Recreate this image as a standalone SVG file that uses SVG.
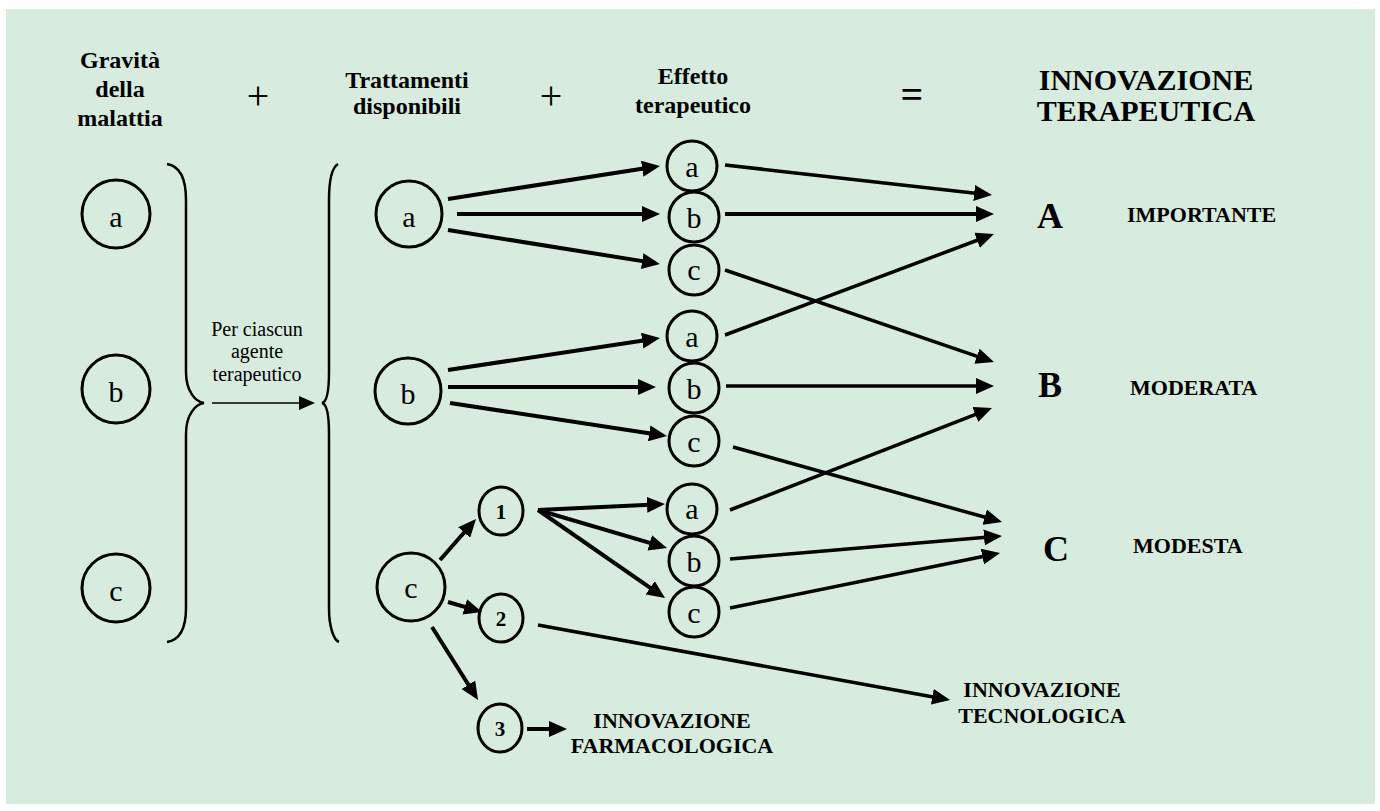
<svg xmlns="http://www.w3.org/2000/svg" width="1380" height="811" viewBox="0 0 1380 811">
  <defs>
    <style>
      text { font-family: "Liberation Serif", "Times New Roman", serif; fill: #000; }
      .hdr { font-size: 24px; font-weight: bold; text-anchor: middle; }
      .op { font-size: 40px; text-anchor: middle; }
      .title { font-size: 30px; font-weight: bold; text-anchor: middle; }
      .grade { font-size: 36px; font-weight: bold; text-anchor: middle; }
      .lvl { font-size: 22px; font-weight: bold; }
      .out { font-size: 22px; font-weight: bold; text-anchor: middle; }
      .note { font-size: 20px; text-anchor: middle; }
      .lt { font-size: 30px; text-anchor: middle; }
      .num { font-size: 21px; font-weight: bold; text-anchor: middle; }
      .ring { fill: none; stroke: #000; stroke-width: 3; }
      .arrow { fill: none; stroke: #000; stroke-width: 4; marker-end: url(#head); }
      .arrow.mid { stroke-width: 3.5; }
      .thin { fill: none; stroke: #000; stroke-width: 1.5; marker-end: url(#head-s); }
      .brace { fill: none; stroke: #000; stroke-width: 2.5; }
    </style>
    <marker id="head" markerUnits="userSpaceOnUse" viewBox="0 0 18 16" markerWidth="18" markerHeight="16" refX="8" refY="8" orient="auto">
      <path d="M0,0 L18,8 L0,16 Z" fill="#000"/>
    </marker>
    <marker id="head-s" markerUnits="userSpaceOnUse" viewBox="0 0 16 14" markerWidth="16" markerHeight="14" refX="6" refY="7" orient="auto">
      <path d="M0,0 L16,7 L0,14 Z" fill="#000"/>
    </marker>
  </defs>

  <rect x="0" y="0" width="1380" height="811" fill="#ffffff"/>
  <rect x="6" y="9" width="1369" height="795" fill="#D7EBDE"/>

  <!-- column headings -->
  <g id="headings">
    <text class="hdr" x="120" y="68">Gravità</text>
    <text class="hdr" x="120" y="97">della</text>
    <text class="hdr" x="120" y="126">malattia</text>
    <text class="op" x="258" y="109">+</text>
    <text class="hdr" x="407" y="88">Trattamenti</text>
    <text class="hdr" x="407" y="114">disponibili</text>
    <text class="op" x="551" y="109">+</text>
    <text class="hdr" x="693" y="84">Effetto</text>
    <text class="hdr" x="693" y="113">terapeutico</text>
    <text class="op" x="912" y="108" font-weight="bold">=</text>
    <text class="title" x="1146" y="90">INNOVAZIONE</text>
    <text class="title" x="1146" y="121">TERAPEUTICA</text>
  </g>

  <!-- disease severity -->
  <g id="sev-a"><circle class="ring" cx="116" cy="214" r="34"/><text class="lt" x="116" y="227">a</text></g>
  <g id="sev-b"><circle class="ring" cx="116" cy="389" r="34"/><text class="lt" x="116" y="402">b</text></g>
  <g id="sev-c"><circle class="ring" cx="116" cy="588" r="34"/><text class="lt" x="116" y="601">c</text></g>

  <!-- braces and the per-agent step -->
  <g id="braces">
    <path class="brace" d="M167,164 C180,166 186,178 186,200 L186,372 C186,392 196,402 204,403 C196,404 186,414 186,434 L186,608 C186,628 180,640 167,642"/>
    <path class="brace" d="M338,164 C333,167 329,178 329,200 L329,372 C329,392 327,402 322,403 C327,404 329,414 329,434 L329,608 C329,628 334,640 339,642"/>
  </g>
  <g id="per-agente">
    <text class="note" x="257" y="336">Per ciascun</text>
    <text class="note" x="257" y="358">agente</text>
    <text class="note" x="257" y="381">terapeutico</text>
  </g>

  <!-- available treatments -->
  <g id="tr-a"><circle class="ring" cx="409" cy="214" r="33"/><text class="lt" x="409" y="227">a</text></g>
  <g id="tr-b"><circle class="ring" cx="408" cy="391" r="33"/><text class="lt" x="408" y="404">b</text></g>
  <g id="tr-c"><circle class="ring" cx="411" cy="587" r="34"/><text class="lt" x="411" y="598">c</text></g>

  <!-- treatment options for c -->
  <g id="opt-1"><ellipse class="ring" cx="501" cy="511" rx="22" ry="24"/><text class="num" x="501" y="519">1</text></g>
  <g id="opt-2"><ellipse class="ring" cx="501" cy="618" rx="22" ry="24"/><text class="num" x="501" y="626">2</text></g>
  <g id="opt-3"><ellipse class="ring" cx="500" cy="728" rx="22" ry="24"/><text class="num" x="500" y="736">3</text></g>

  <!-- therapeutic effect, three groups -->
  <g id="eff-1a"><circle class="ring" cx="692" cy="166" r="25"/><text class="lt" x="692" y="177">a</text></g>
  <g id="eff-1b"><circle class="ring" cx="694" cy="217" r="25"/><text class="lt" x="694" y="228">b</text></g>
  <g id="eff-1c"><circle class="ring" cx="694" cy="270" r="25"/><text class="lt" x="694" y="280">c</text></g>
  <g id="eff-2a"><circle class="ring" cx="692" cy="336" r="25"/><text class="lt" x="692" y="347">a</text></g>
  <g id="eff-2b"><circle class="ring" cx="694" cy="388" r="25"/><text class="lt" x="694" y="399">b</text></g>
  <g id="eff-2c"><circle class="ring" cx="694" cy="441" r="25"/><text class="lt" x="694" y="452">c</text></g>
  <g id="eff-3a"><circle class="ring" cx="692" cy="509" r="25"/><text class="lt" x="692" y="519">a</text></g>
  <g id="eff-3b"><circle class="ring" cx="694" cy="561" r="25"/><text class="lt" x="694" y="572">b</text></g>
  <g id="eff-3c"><circle class="ring" cx="694" cy="612" r="25"/><text class="lt" x="694" y="623">c</text></g>

  <!-- innovation grades -->
  <g id="grade-A"><text class="grade" x="1050" y="228">A</text><text class="lvl" x="1127" y="222">IMPORTANTE</text></g>
  <g id="grade-B"><text class="grade" x="1050" y="397">B</text><text class="lvl" x="1130" y="395">MODERATA</text></g>
  <g id="grade-C"><text class="grade" x="1056" y="561">C</text><text class="lvl" x="1133" y="553">MODESTA</text></g>

  <g id="innov-tecn"><text class="out" x="1042" y="697">INNOVAZIONE</text><text class="out" x="1042" y="723">TECNOLOGICA</text></g>
  <g id="innov-farm"><text class="out" x="672" y="728">INNOVAZIONE</text><text class="out" x="672" y="753">FARMACOLOGICA</text></g>

  <!-- connectors -->
  <g id="connectors">
    <line class="thin" x1="212" y1="403" x2="305" y2="403"/>

    <line class="arrow" x1="448" y1="199" x2="650.1" y2="167.5"/>
    <line class="arrow" x1="457" y1="214" x2="650" y2="214"/>
    <line class="arrow" x1="448" y1="230" x2="650.1" y2="262.4"/>

    <line class="arrow" x1="448" y1="370" x2="650.1" y2="339.5"/>
    <line class="arrow" x1="448" y1="387" x2="646" y2="387"/>
    <line class="arrow" x1="450" y1="403" x2="657.1" y2="434.5"/>

    <line class="arrow" x1="440" y1="560" x2="469.4" y2="526.5"/>
    <line class="arrow" x1="448" y1="602" x2="472.4" y2="609.2"/>
    <line class="arrow" x1="432" y1="627" x2="472.7" y2="691.5"/>

    <line class="arrow" x1="538" y1="510" x2="655" y2="504.5"/>
    <line class="arrow" x1="538" y1="510" x2="657.4" y2="545.2"/>
    <line class="arrow" x1="538" y1="510" x2="656.8" y2="592.3"/>

    <line class="arrow mid" x1="538" y1="625" x2="940.2" y2="698.2"/>
    <line class="arrow" x1="527" y1="729" x2="557" y2="729"/>

    <line class="arrow mid" x1="725" y1="165" x2="982.1" y2="193.9"/>
    <line class="arrow" x1="725" y1="214" x2="984" y2="214"/>
    <line class="arrow mid" x1="725" y1="270" x2="984.5" y2="358.8"/>
    <line class="arrow mid" x1="725" y1="335" x2="984.6" y2="237.5"/>
    <line class="arrow mid" x1="726" y1="386" x2="984" y2="386"/>
    <line class="arrow mid" x1="733" y1="447" x2="992.4" y2="519.3"/>
    <line class="arrow mid" x1="730" y1="510" x2="982.7" y2="411.6"/>
    <line class="arrow mid" x1="730" y1="559" x2="992" y2="536.8"/>
    <line class="arrow mid" x1="730" y1="608" x2="990.2" y2="555"/>
  </g>
</svg>
